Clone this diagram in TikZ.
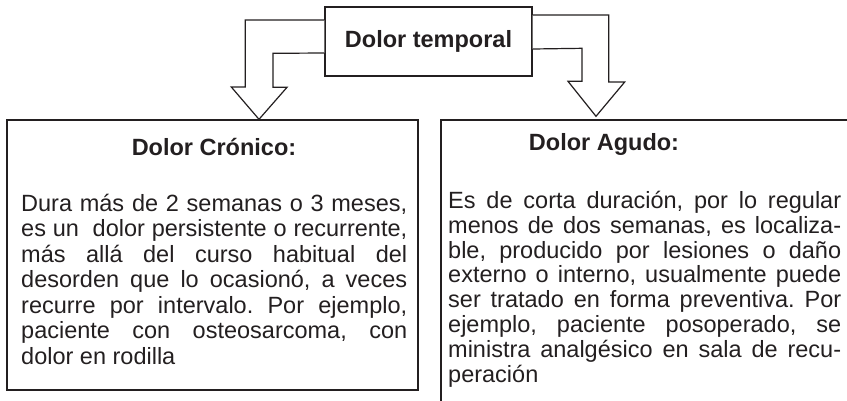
\documentclass[tikz,border=0pt]{standalone}
\usepackage{fontspec}
\setmainfont{Liberation Sans}
\frenchspacing
\definecolor{ink}{HTML}{231F20}
\begin{document}
\begin{tikzpicture}[x=1pt,y=-1pt,
  boxst/.style={draw=ink,line width=1.4pt,inner sep=0pt,rectangle},
  titlest/.style={text=ink,font=\fontsize{23.5}{27}\selectfont\bfseries,inner sep=0pt,anchor=base},
  bodyst/.style={text=ink,inner sep=0pt,align=left,anchor=base west},
  blockarrow/.style={draw=ink,line width=1.2pt,line join=miter,fill=white}]
\useasboundingbox (0,0) rectangle (847,400);
\clip (0,0) rectangle (847,400);
% boxes
\node[boxst,minimum width=207pt,minimum height=69pt,text=ink,font=\fontsize{23.5}{27}\selectfont\bfseries] (top) at (428.5,41.5) {Dolor temporal};
\node[boxst,minimum width=411pt,minimum height=270pt] (lbox) at (212.5,255) {};
\node[boxst,minimum width=430pt,minimum height=300pt] (rbox) at (656,270) {};
% titles
\node[titlest] (ltitle) at (214,155) {Dolor Crónico:};
\node[titlest] (rtitle) at (604,150) {Dolor Agudo:};
% bodies (anchored at the baseline of their last line)
\node[bodyst,font=\fontsize{23.5}{25.5}\selectfont] (lbody) at (21,364) {%
\makebox[386pt][s]{Dura más de 2 semanas o 3 meses,}\\
\makebox[386pt][s]{es un\space\space dolor persistente o recurrente,}\\
\makebox[386pt][s]{más allá del curso habitual del}\\
\makebox[386pt][s]{desorden que lo ocasionó, a veces}\\
\makebox[386pt][s]{recurre por intervalo. Por ejemplo,}\\
\makebox[386pt][s]{paciente con osteosarcoma, con}\\
dolor en rodilla};
\node[bodyst,font=\fontsize{23.5}{24.8}\selectfont] (rbody) at (448,382) {%
\makebox[393pt][s]{Es de corta duración, por lo regular}\\
\makebox[393pt][s]{menos de dos semanas, es localiza-}\\
\makebox[393pt][s]{ble, producido por lesiones o daño}\\
\makebox[393pt][s]{externo o interno, usualmente puede}\\
\makebox[393pt][s]{ser tratado en forma preventiva. Por}\\
\makebox[393pt][s]{ejemplo, paciente posoperado, se}\\
\makebox[393pt][s]{ministra analgésico en sala de recu-}\\
peración};
% block arrows from top box to the two boxes
\draw[blockarrow] ([yshift=21.5pt]top.west) -- ++(-79,0) -- ++(0,67) -- ++(-14,0)
  -- ([xshift=46.5pt]lbox.north) -- ++(28,-32) -- ++(-14,0) -- ++(0,-34) -- ([yshift=-11.5pt]top.west);
\draw[blockarrow] ([yshift=26.5pt]top.east) -- ++(76,0) -- ++(0,67) -- ++(16,0)
  -- ([xshift=-60pt,yshift=3pt]rbox.north) -- ++(-28,-35) -- ++(14,0) -- ++(0,-33) -- ([yshift=-7.5pt]top.east);
\end{tikzpicture}
\end{document}
